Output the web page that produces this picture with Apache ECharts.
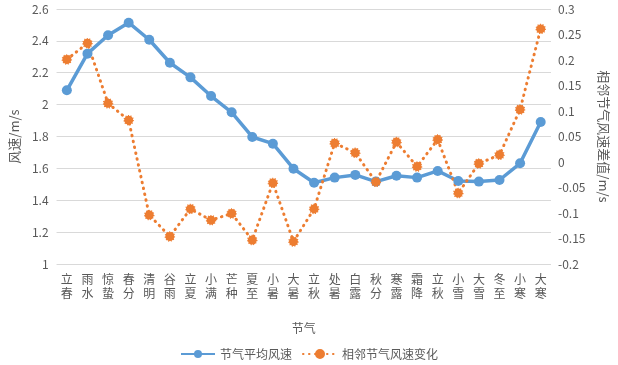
<!DOCTYPE html>
<html><head><meta charset="utf-8">
<script src="https://cdn.jsdelivr.net/npm/echarts@6/dist/echarts.min.js"></script>
<style>html,body{margin:0;padding:0;background:#fff}#c{width:618px;height:365px}</style>
</head><body><div id="c"></div>
<script>
const categories = ['立春','雨水','惊蛰','春分','清明','谷雨','立夏','小满','芒种','夏至','小暑','大暑','立秋','处暑','白露','秋分','寒露','霜降','立秋','小雪','大雪','冬至','小寒','大寒'];
const avgSpeed = [2.09,2.32,2.435,2.514,2.407,2.263,2.171,2.054,1.952,1.797,1.755,1.598,1.51,1.542,1.559,1.517,1.554,1.542,1.584,1.521,1.517,1.527,1.632,1.891];
const speedChange = [0.201,0.233,0.115,0.082,-0.104,-0.146,-0.092,-0.114,-0.101,-0.153,-0.041,-0.156,-0.092,0.037,0.018,-0.039,0.039,-0.009,0.044,-0.061,-0.003,0.014,0.103,0.261];
const leftTicks = {min:1, max:2.6, interval:0.2};
const rightTicks = {min:-0.2, max:0.3, interval:0.05};

const font = '"Noto Sans CJK SC", "Liberation Sans", sans-serif';
const gray = '#595959';
const chart = echarts.init(document.getElementById('c'));
chart.setOption({
  animation:false,
  textStyle:{fontFamily:font},
  grid:{left:55,right:66,top:9,bottom:101,containLabel:false},
  legend:{
    bottom:0, left:'center', itemWidth:34, itemHeight:10, itemGap:10,
    textStyle:{color:gray,fontSize:12,fontFamily:font},
    data:['节气平均风速','相邻节气风速变化']
  },
  xAxis:{
    type:'category', data:categories, boundaryGap:true,
    name:'节气', nameLocation:'middle', nameGap:58,
    nameTextStyle:{color:gray,fontSize:12},
    axisLine:{show:false}, axisTick:{show:false},
    axisLabel:{interval:0,color:gray,fontSize:12,lineHeight:14,margin:8,
      formatter:v=>v.split('').join('\n')}
  },
  yAxis:[
    {type:'value',min:leftTicks.min,max:leftTicks.max,interval:leftTicks.interval,
     name:'风速/m/s',nameLocation:'middle',nameGap:34,nameRotate:90,
     nameTextStyle:{color:gray,fontSize:13},
     axisLabel:{color:gray,fontSize:12,formatter:v=>String(Math.round(v*10)/10)},
     axisLine:{show:false},axisTick:{show:false},
     splitLine:{lineStyle:{color:'#D9D9D9',width:1}}},
    {type:'value',min:rightTicks.min,max:rightTicks.max,interval:rightTicks.interval,
     name:'相邻节气风速差值/m/s',nameLocation:'middle',nameGap:46,nameRotate:-90,
     nameTextStyle:{color:gray,fontSize:13},
     axisLabel:{color:gray,fontSize:12,margin:7,formatter:v=>String(Math.round(v*100)/100)},
     axisLine:{show:false},axisTick:{show:false},splitLine:{show:false}}
  ],
  series:[
    {name:'节气平均风速',type:'line',yAxisIndex:0,data:avgSpeed,
     symbol:'circle',symbolSize:10,
     lineStyle:{color:'#5B9BD5',width:3.5},
     itemStyle:{color:'#5B9BD5'}},
    {name:'相邻节气风速变化',type:'line',yAxisIndex:1,data:speedChange,
     symbol:'circle',symbolSize:9,
     lineStyle:{color:'#ED7D31',width:3,type:[0.5,5.5],cap:'round'},
     itemStyle:{color:'#ED7D31',borderColor:'#ED7D31',borderWidth:1.5,borderType:[1,1.5]}}
  ]
});
</script></body></html>
